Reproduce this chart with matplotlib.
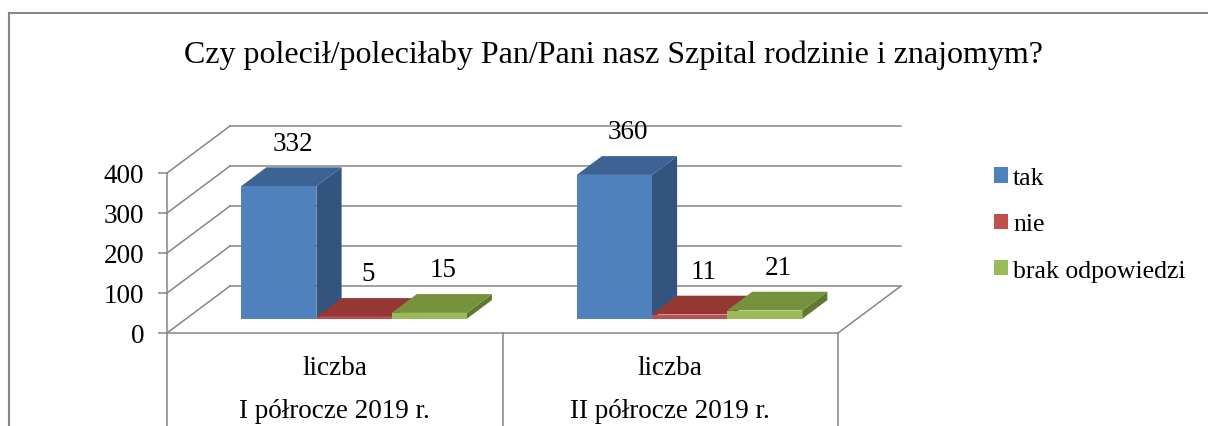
import numpy as np
import matplotlib
matplotlib.use('Agg')
import matplotlib.pyplot as plt
from matplotlib.patches import Polygon, Patch
from matplotlib.lines import Line2D

plt.rcParams['font.family'] = ['Liberation Serif', 'DejaVu Serif']

# data
title = 'Czy polecił/poleciłaby Pan/Pani nasz Szpital rodzinie i znajomym?'
groups = ['liczba\nI półrocze 2019 r.', 'liczba\nII półrocze 2019 r.']
series = ['tak', 'nie', 'brak odpowiedzi']
values = {
    'tak': [332, 360],
    'nie': [5, 11],
    'brak odpowiedzi': [15, 21],
}
yticks = [0, 100, 200, 300, 400]

# colours: front, top, side
colors = {
    'tak': ('#4f81bd', '#3c6394', '#33547e'),
    'nie': ('#c0504d', '#933835', '#7a2e2c'),
    'brak odpowiedzi': ('#9bbb59', '#76923c', '#5f7a30'),
}
grid_c = '#868686'
fs = 19.5

W, H = 1208, 427
fig = plt.figure(figsize=(W / 100, H / 100), dpi=100)

# axes = front plane of the 3d box (pixel geometry of the reference)
x_l, x_r, y_0, y_top = 167, 838, 334, 174
ax = fig.add_axes([x_l / W, (H - y_0) / H, (x_r - x_l) / W, (y_0 - y_top) / H])
ax.set_xlim(0, len(groups))
ax.set_ylim(0, 400)
ax.patch.set_visible(False)

px_x = (x_r - x_l) / len(groups)   # pixels per category
px_y = (y_0 - y_top) / 400.0       # pixels per unit

# depth of the box in data units
ddx = 63 / px_x
ddy = 47 / px_y

# back wall gridlines and side diagonals
n = len(groups)
for v in yticks:
    ax.plot([ddx, n + ddx], [v + ddy, v + ddy], color=grid_c, lw=1.1, clip_on=False, zorder=1)
    ax.plot([0, ddx], [v, v + ddy], color=grid_c, lw=1.1, clip_on=False, zorder=1)
# floor right edge
ax.plot([n, n + ddx], [0, ddy], color=grid_c, lw=1.1, clip_on=False, zorder=1)

# bars
f0, f1 = 0.30, 0.70
bw = 0.224
start = 0.165
for gi in range(n):
    for si, s in enumerate(series):
        v = values[s][gi]
        fc, tc, sc = colors[s]
        x0 = gi + start + si * bw + f0 * ddx
        y0 = f0 * ddy
        dx = (f1 - f0) * ddx
        dy = (f1 - f0) * ddy
        front = [(x0, y0), (x0 + bw, y0), (x0 + bw, y0 + v), (x0, y0 + v)]
        top = [(x0, y0 + v), (x0 + bw, y0 + v), (x0 + bw + dx, y0 + v + dy), (x0 + dx, y0 + v + dy)]
        side = [(x0 + bw, y0), (x0 + bw + dx, y0 + dy), (x0 + bw + dx, y0 + v + dy), (x0 + bw, y0 + v)]
        z = 3 + gi * 3 + si
        for pts, c in ((side, sc), (top, tc), (front, fc)):
            ax.add_patch(Polygon(pts, closed=True, facecolor=c, edgecolor='none',
                                 clip_on=False, zorder=z))
        ax.annotate(str(v), xy=(x0 + bw / 2, y0 + v), xytext=(14, 43),
                    textcoords='offset pixels', ha='center', va='center',
                    fontsize=fs, zorder=20)

# axes styling
for k in ('top', 'right'):
    ax.spines[k].set_visible(False)
ax.spines['left'].set_color(grid_c)
ax.spines['bottom'].set_color(grid_c)
ax.spines['left'].set_linewidth(1.1)
ax.spines['bottom'].set_linewidth(1.1)
ax.set_yticks(yticks)
ax.tick_params(axis='y', direction='out', length=6.5, width=1.1, color=grid_c,
               labelsize=fs, pad=10)
ax.set_xticks([i + 0.5 for i in range(n)])
ax.set_xticklabels(groups, fontsize=fs, linespacing=1.93)
ax.tick_params(axis='x', length=0, pad=16)

# category separators below the floor
trans = ax.get_xaxis_transform()
for i in range(n + 1):
    ax.plot([i, i], [0, -0.7], color=grid_c, lw=1.1, transform=trans, clip_on=False)

# legend
handles = [Patch(facecolor=colors[s][0], edgecolor='none') for s in series]
fig.legend(handles, series, loc='upper left', bbox_to_anchor=(994 / W, 1 - 168 / H),
           frameon=False, fontsize=18.5, handlelength=0.54, handleheight=0.54,
           handletextpad=0.2, labelspacing=0.95, borderpad=0, borderaxespad=0)

# title
fig.text(614 / W, 1 - 55 / H, title, ha='center', va='center', fontsize=23)

# outer chart border
fig.add_artist(Line2D([9 / W, 1], [1 - 14 / H, 1 - 14 / H], color=grid_c, lw=1.5))
fig.add_artist(Line2D([9 / W, 9 / W], [0, 1 - 14 / H], color=grid_c, lw=1.5))

fig.savefig('out.png', dpi=100)
